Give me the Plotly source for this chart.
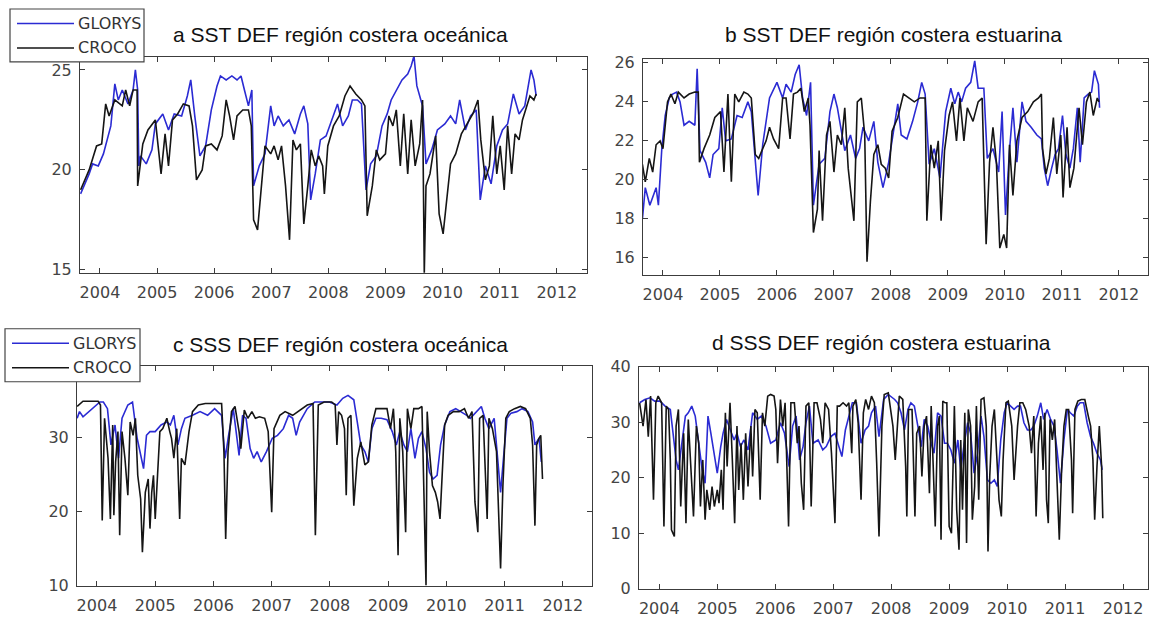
import plotly.graph_objects as go

W, H = 1153, 619

YEAR_TICKS = [2004, 2005, 2006, 2007, 2008, 2009, 2010, 2011, 2012]
TITLES = ["a SST DEF región costera oceánica", "b SST DEF región costera estuarina",
          "c SSS DEF región costera oceánica", "d SSS DEF región costera estuarina"]
SERIES_NAMES = ["GLORYS", "CROCO"]

# ---------------- panel a : SST oceanic ----------------
A_GLO_T = [2003.66,2003.81,2003.87,2003.97,2004.06,2004.13,2004.19,2004.26,2004.32,2004.39,
           2004.49,2004.58,2004.62,2004.66,2004.68,2004.71,2004.81,2004.91,2004.97,2005.10,
           2005.20,2005.30,2005.43,2005.53,2005.59,2005.66,2005.75,2005.85,2005.95,2006.05,
           2006.11,2006.21,2006.31,2006.40,2006.47,2006.53,2006.60,2006.66,2006.69,2006.79,
           2006.89,2006.99,2007.05,2007.12,2007.21,2007.31,2007.41,2007.51,2007.57,2007.64,
           2007.69,2007.77,2007.86,2007.96,2008.06,2008.16,2008.25,2008.35,2008.42,2008.51,
           2008.58,2008.66,2008.74,2008.84,2008.94,2009.03,2009.10,2009.19,2009.29,2009.39,
           2009.45,2009.50,2009.55,2009.62,2009.65,2009.71,2009.81,2009.91,2010.04,2010.14,
           2010.23,2010.30,2010.40,2010.49,2010.59,2010.66,2010.75,2010.85,2010.95,2011.05,
           2011.14,2011.24,2011.34,2011.44,2011.50,2011.55,2011.60,2011.64]
A_GLO_V = [18.8,19.8,20.3,20.2,20.8,21.5,22.2,24.3,23.5,24.0,
           23.3,24.0,25.0,24.0,20.2,20.7,20.3,21.0,22.3,22.8,
           22.0,22.8,22.7,23.7,24.5,22.7,20.7,21.2,23.0,24.2,
           24.7,24.5,24.7,24.5,24.7,24.0,23.2,24.0,19.2,20.2,
           20.8,23.2,22.2,22.7,22.2,22.5,21.8,22.8,23.2,22.3,
           18.5,19.8,21.5,21.7,22.5,23.3,22.2,22.7,23.5,23.5,
           23.3,19.0,20.3,20.7,22.2,22.8,23.5,24.0,24.5,24.8,
           25.2,25.7,24.2,23.5,23.2,20.3,21.0,22.0,22.3,22.7,
           22.3,23.5,22.0,22.7,23.0,18.5,20.2,19.3,21.2,22.0,
           22.3,23.8,22.8,23.2,24.2,25.0,24.5,23.7]
A_CRO_T = [2003.66,2003.81,2003.94,2004.03,2004.10,2004.16,2004.26,2004.39,2004.45,2004.52,
           2004.58,2004.65,2004.66,2004.75,2004.84,2004.97,2005.07,2005.14,2005.20,2005.27,
           2005.36,2005.46,2005.56,2005.62,2005.69,2005.79,2005.85,2005.95,2006.05,2006.14,
           2006.21,2006.27,2006.34,2006.40,2006.50,2006.60,2006.65,2006.69,2006.76,2006.82,
           2006.89,2006.99,2007.05,2007.12,2007.18,2007.25,2007.32,2007.38,2007.44,2007.51,
           2007.57,2007.64,2007.70,2007.77,2007.83,2007.90,2007.93,2007.99,2008.09,2008.19,
           2008.29,2008.38,2008.48,2008.58,2008.64,2008.68,2008.77,2008.84,2008.90,2009.00,
           2009.06,2009.13,2009.19,2009.26,2009.32,2009.39,2009.45,2009.52,2009.60,2009.65,
           2009.68,2009.71,2009.78,2009.88,2009.94,2010.01,2010.07,2010.14,2010.23,2010.33,
           2010.43,2010.53,2010.62,2010.67,2010.75,2010.82,2010.88,2010.95,2011.01,2011.08,
           2011.14,2011.21,2011.27,2011.34,2011.40,2011.47,2011.53,2011.60,2011.64]
A_CRO_V = [19.0,20.0,21.2,21.3,23.3,22.7,23.5,23.2,24.0,23.2,
           24.0,24.0,19.2,21.3,22.0,22.5,19.8,21.8,20.2,22.5,
           22.8,23.3,23.2,22.2,19.5,20.0,21.2,21.3,21.0,21.7,
           23.5,22.7,21.5,22.7,23.0,23.0,22.2,17.5,17.0,18.8,
           21.2,20.8,21.2,20.5,21.2,19.2,16.5,21.5,21.0,21.3,
           17.3,19.2,21.0,20.2,20.7,20.2,18.8,21.2,22.2,22.7,
           23.7,24.2,23.8,23.5,23.2,17.7,19.2,21.0,20.5,20.8,
           22.7,22.2,23.0,20.2,22.8,19.8,22.5,20.2,21.3,23.5,
           14.8,19.2,19.8,21.7,17.8,16.8,18.5,20.3,20.8,21.8,
           22.3,22.8,23.5,21.5,19.5,20.2,22.7,19.8,21.2,19.0,
           22.2,19.8,21.8,21.5,22.5,23.2,23.7,23.5,23.8]

# ---------------- panel b : SST estuarine ----------------
B_GLO_T = [2003.64,2003.69,2003.77,2003.82,2003.88,2003.92,2003.98,2004.04,2004.11,2004.17,
           2004.24,2004.30,2004.37,2004.46,2004.56,2004.60,2004.65,2004.75,2004.82,2004.88,
           2004.98,2005.04,2005.10,2005.20,2005.30,2005.39,2005.49,2005.55,2005.67,2005.75,
           2005.87,2006.00,2006.10,2006.16,2006.25,2006.32,2006.39,2006.45,2006.52,2006.59,
           2006.64,2006.74,2006.84,2006.93,2007.00,2007.06,2007.13,2007.19,2007.29,2007.38,
           2007.45,2007.51,2007.61,2007.70,2007.77,2007.86,2007.96,2008.06,2008.12,2008.18,
           2008.28,2008.38,2008.47,2008.54,2008.60,2008.67,2008.76,2008.86,2008.96,2009.05,
           2009.12,2009.18,2009.24,2009.31,2009.40,2009.47,2009.53,2009.63,2009.69,2009.79,
           2009.89,2009.95,2010.01,2010.08,2010.14,2010.21,2010.30,2010.37,2010.46,2010.56,
           2010.64,2010.69,2010.75,2010.82,2010.88,2010.94,2011.01,2011.07,2011.14,2011.20,
           2011.27,2011.32,2011.39,2011.46,2011.52,2011.57,2011.64,2011.66]
B_GLO_V = [18.0,19.6,18.7,19.1,19.6,18.7,21.6,23.3,24.2,24.4,
           24.5,24.0,22.8,23.0,22.8,25.7,21.5,20.9,20.1,21.3,
           21.6,23.7,22.0,22.1,23.3,23.2,24.0,23.5,19.2,21.8,
           24.2,25.0,24.2,24.9,24.5,25.4,25.9,24.2,23.3,25.0,
           18.7,20.8,21.1,23.5,24.4,23.7,22.5,21.5,22.3,21.1,
           21.6,22.7,22.0,23.0,20.9,19.6,20.9,22.7,23.9,22.3,
           22.1,23.0,24.0,25.0,24.4,20.8,21.6,20.1,23.5,24.7,
           23.9,24.5,24.0,24.7,25.0,26.1,24.7,24.7,21.1,21.6,
           20.4,23.5,18.2,21.5,23.7,20.9,24.0,23.0,22.7,22.3,
           22.1,20.6,19.7,20.6,21.3,21.6,23.3,21.3,20.6,21.6,
           23.7,20.9,24.2,24.4,24.5,25.6,24.9,23.7]
B_CRO_T = [2003.64,2003.69,2003.76,2003.82,2003.88,2003.95,2004.00,2004.08,2004.14,2004.21,
           2004.27,2004.37,2004.46,2004.56,2004.62,2004.64,2004.72,2004.82,2004.91,2005.01,
           2005.07,2005.14,2005.20,2005.26,2005.33,2005.42,2005.49,2005.55,2005.62,2005.68,
           2005.75,2005.81,2005.87,2005.94,2006.03,2006.10,2006.16,2006.23,2006.29,2006.36,
           2006.42,2006.48,2006.55,2006.58,2006.64,2006.71,2006.74,2006.80,2006.87,2006.93,
           2007.00,2007.06,2007.13,2007.19,2007.25,2007.32,2007.35,2007.41,2007.48,2007.54,
           2007.58,2007.64,2007.70,2007.77,2007.83,2007.90,2007.96,2008.02,2008.12,2008.22,
           2008.31,2008.41,2008.51,2008.60,2008.63,2008.70,2008.76,2008.83,2008.88,2008.94,
           2009.02,2009.08,2009.15,2009.21,2009.28,2009.34,2009.44,2009.53,2009.60,2009.63,
           2009.67,2009.73,2009.79,2009.85,2009.91,2009.98,2010.03,2010.08,2010.14,2010.21,
           2010.30,2010.40,2010.50,2010.59,2010.64,2010.66,2010.72,2010.78,2010.85,2010.91,
           2010.98,2011.02,2011.09,2011.14,2011.21,2011.30,2011.36,2011.43,2011.49,2011.55,
           2011.62,2011.65]
B_CRO_V = [20.8,19.9,21.1,20.4,21.8,22.0,21.6,24.0,24.4,23.9,
           24.5,24.2,24.4,24.5,24.5,20.9,21.6,22.3,23.2,23.5,
           20.4,24.4,19.9,24.4,24.0,24.5,24.4,24.2,21.3,21.1,
           21.6,22.0,22.7,22.1,21.6,24.2,24.2,22.1,24.4,24.5,
           24.7,23.5,24.2,22.8,17.3,18.5,21.5,17.9,22.3,23.0,
           20.4,22.3,21.8,23.7,20.6,18.5,17.9,24.0,24.2,22.3,
           15.8,18.9,21.3,21.8,20.8,20.6,20.1,22.5,23.2,24.4,
           24.2,24.0,24.2,24.2,17.9,21.8,20.6,22.0,17.9,21.5,
           23.3,24.0,22.0,24.2,22.0,23.7,23.0,24.0,24.2,20.6,
           16.7,20.9,22.7,20.9,16.5,17.2,16.5,21.8,19.2,22.0,
           23.2,23.5,24.0,24.2,24.4,21.6,20.3,21.1,23.2,20.3,
           22.3,19.1,22.7,19.6,20.6,23.7,21.8,24.0,24.5,23.3,
           24.2,24.0]

# ---------------- panel c : SSS oceanic ----------------
C_GLO_T = [2003.66,2003.70,2003.76,2003.86,2003.96,2004.05,2004.11,2004.18,2004.24,2004.31,
           2004.37,2004.43,2004.53,2004.61,2004.69,2004.76,2004.80,2004.85,2004.91,2005.00,
           2005.10,2005.20,2005.26,2005.32,2005.39,2005.45,2005.51,2005.64,2005.77,2005.90,
           2006.02,2006.14,2006.20,2006.26,2006.34,2006.44,2006.50,2006.56,2006.63,2006.69,
           2006.75,2006.82,2006.91,2007.01,2007.10,2007.20,2007.29,2007.36,2007.42,2007.48,
           2007.61,2007.74,2007.87,2007.99,2008.12,2008.22,2008.31,2008.41,2008.47,2008.53,
           2008.60,2008.66,2008.72,2008.79,2008.88,2008.98,2009.07,2009.14,2009.20,2009.27,
           2009.33,2009.39,2009.46,2009.52,2009.58,2009.65,2009.71,2009.77,2009.84,2009.90,
           2009.97,2010.06,2010.16,2010.25,2010.35,2010.41,2010.51,2010.60,2010.66,2010.73,
           2010.82,2010.89,2010.93,2010.99,2011.04,2011.11,2011.21,2011.30,2011.40,2011.48,
           2011.52,2011.59,2011.63]
C_GLO_V = [32.6,33.5,32.8,33.5,34.2,34.8,34.8,33.9,29.0,31.7,
           27.2,32.6,34.4,34.8,29.9,27.2,25.8,30.3,30.8,30.8,
           31.7,32.1,31.7,33.0,29.0,31.2,32.6,33.0,33.5,33.0,
           33.9,33.0,27.2,30.3,33.9,27.6,33.0,32.6,28.5,27.2,
           28.1,26.7,28.1,29.9,30.3,31.2,33.0,32.6,30.3,32.1,
           33.9,34.8,34.8,34.8,34.4,35.3,35.7,35.1,32.1,29.0,
           28.1,26.7,31.2,32.6,32.6,32.4,30.8,29.0,30.8,29.0,
           28.1,31.2,27.2,29.9,30.8,28.5,25.3,24.4,24.9,29.0,
           31.7,33.5,33.9,33.5,33.0,32.6,33.5,34.2,32.6,31.2,
           32.6,25.8,22.6,28.1,32.6,33.3,33.5,33.9,33.5,32.1,
           29.0,29.9,26.7]
C_CRO_T = [2003.66,2003.76,2004.02,2004.06,2004.09,2004.13,2004.19,2004.23,2004.27,2004.29,
           2004.32,2004.36,2004.39,2004.43,2004.48,2004.53,2004.57,2004.62,2004.66,2004.70,
           2004.75,2004.78,2004.83,2004.88,2004.91,2004.94,2004.97,2005.00,2005.04,2005.08,
           2005.13,2005.20,2005.25,2005.28,2005.32,2005.37,2005.42,2005.45,2005.51,2005.58,
           2005.64,2005.74,2005.86,2006.02,2006.14,2006.18,2006.21,2006.25,2006.31,2006.37,
           2006.44,2006.47,2006.53,2006.59,2006.66,2006.72,2006.79,2006.88,2006.94,2007.00,
           2007.04,2007.14,2007.23,2007.36,2007.48,2007.61,2007.71,2007.75,2007.80,2007.90,
           2008.03,2008.09,2008.12,2008.15,2008.20,2008.25,2008.28,2008.31,2008.36,2008.41,
           2008.47,2008.53,2008.60,2008.66,2008.72,2008.79,2008.88,2008.98,2009.04,2009.09,
           2009.13,2009.17,2009.20,2009.25,2009.30,2009.33,2009.39,2009.44,2009.52,2009.58,
           2009.65,2009.67,2009.71,2009.76,2009.81,2009.85,2009.89,2009.93,2009.97,2010.03,
           2010.12,2010.22,2010.31,2010.38,2010.44,2010.49,2010.54,2010.57,2010.63,2010.70,
           2010.73,2010.79,2010.86,2010.91,2010.93,2010.97,2011.02,2011.08,2011.17,2011.27,
           2011.36,2011.44,2011.48,2011.52,2011.55,2011.59,2011.62,2011.65]
C_CRO_V = [34.2,34.9,34.9,34.4,18.8,32.6,27.2,19.0,31.7,19.5,
           26.7,30.8,16.8,30.8,27.2,22.2,32.1,30.3,32.6,24.9,
           21.7,14.5,22.6,24.4,17.7,22.6,24.9,19.0,24.9,30.8,
           31.2,32.6,30.8,29.9,27.2,31.2,19.0,27.2,26.3,30.8,
           33.5,34.4,34.6,34.6,34.6,28.1,16.3,28.1,33.5,34.2,
           30.8,28.5,33.7,32.6,33.5,32.6,32.8,32.6,30.8,19.9,
           31.2,33.0,33.5,33.0,33.7,34.4,34.6,16.8,34.4,34.8,
           34.8,34.4,29.0,33.5,33.0,31.2,22.2,32.6,33.0,20.8,
           27.2,29.4,26.3,26.7,31.7,33.9,33.9,33.9,31.2,33.9,
           28.1,14.1,32.6,28.1,17.2,33.9,31.2,33.9,33.9,34.2,
           10.0,33.5,28.1,23.5,22.6,21.3,19.0,24.9,31.7,33.0,
           33.5,33.5,33.9,32.6,33.5,21.3,17.2,32.6,33.0,19.0,
           32.6,31.2,28.1,16.8,12.3,23.5,32.6,33.5,33.9,34.2,
           33.9,32.6,29.0,18.1,29.0,29.9,30.3,24.4]

# ---------------- panel d : SSS estuarine ----------------
D_GLO_T = [2003.66,2003.75,2003.84,2003.92,2004.01,2004.10,2004.19,2004.24,2004.29,2004.33,
           2004.39,2004.45,2004.50,2004.56,2004.62,2004.68,2004.74,2004.79,2004.84,2004.89,
           2004.95,2005.00,2005.06,2005.10,2005.16,2005.22,2005.29,2005.34,2005.40,2005.46,
           2005.53,2005.61,2005.69,2005.76,2005.84,2005.92,2006.01,2006.09,2006.16,2006.24,
           2006.30,2006.36,2006.42,2006.48,2006.53,2006.59,2006.65,2006.74,2006.82,2006.88,
           2006.96,2007.03,2007.08,2007.15,2007.21,2007.26,2007.33,2007.40,2007.48,2007.55,
           2007.61,2007.66,2007.73,2007.79,2007.87,2007.95,2008.06,2008.11,2008.17,2008.23,
           2008.29,2008.34,2008.40,2008.46,2008.52,2008.57,2008.63,2008.69,2008.74,2008.80,
           2008.86,2008.92,2008.97,2009.03,2009.09,2009.15,2009.20,2009.26,2009.32,2009.37,
           2009.43,2009.49,2009.55,2009.60,2009.66,2009.72,2009.78,2009.83,2009.89,2009.95,
           2010.00,2010.06,2010.12,2010.18,2010.23,2010.29,2010.35,2010.41,2010.46,2010.52,
           2010.58,2010.63,2010.69,2010.75,2010.81,2010.86,2010.92,2010.98,2011.04,2011.09,
           2011.15,2011.21,2011.26,2011.32,2011.38,2011.44,2011.49,2011.55,2011.61,2011.64]
D_GLO_V = [33.5,34.1,34.4,33.8,33.8,32.9,32.3,27.4,23.2,21.4,
           26.8,31.1,31.7,32.9,31.1,26.2,21.4,19.0,31.1,28.0,
           24.4,20.8,25.6,28.0,30.5,28.6,26.8,28.0,25.6,26.8,
           25.0,31.7,30.5,31.1,29.3,26.2,26.8,29.9,28.0,22.0,
           29.3,31.1,23.2,25.6,29.9,32.9,26.2,26.8,25.0,25.6,
           27.4,28.0,26.2,23.8,28.6,30.5,33.5,33.5,26.2,28.6,
           29.3,31.7,32.9,27.4,34.1,35.0,34.1,33.5,31.7,28.6,
           32.3,33.5,32.9,29.3,25.6,30.5,29.3,26.2,24.4,31.7,
           31.1,26.2,26.2,25.0,22.6,26.8,21.4,26.2,29.9,28.0,
           20.8,24.4,31.1,27.4,19.6,19.0,19.6,18.4,26.8,31.7,
           33.5,32.9,32.3,32.9,32.9,29.9,28.6,28.6,29.3,31.1,
           33.5,30.5,32.3,30.5,29.3,25.0,19.0,26.8,32.3,31.7,
           31.1,32.9,33.5,33.5,29.9,27.4,26.2,24.4,23.2,21.4]
D_CRO_T = [2003.66,2003.72,2003.77,2003.81,2003.85,2003.90,2003.94,2003.98,2004.04,2004.08,
           2004.12,2004.16,2004.19,2004.21,2004.26,2004.29,2004.33,2004.37,2004.42,2004.46,
           2004.50,2004.54,2004.59,2004.64,2004.68,2004.71,2004.75,2004.79,2004.82,2004.87,
           2004.91,2004.95,2005.00,2005.03,2005.07,2005.10,2005.14,2005.17,2005.22,2005.26,
           2005.30,2005.34,2005.37,2005.41,2005.45,2005.49,2005.53,2005.58,2005.61,2005.65,
           2005.69,2005.74,2005.78,2005.82,2005.87,2005.92,2005.98,2006.01,2006.04,2006.09,
           2006.13,2006.17,2006.20,2006.23,2006.27,2006.33,2006.38,2006.41,2006.45,2006.49,
           2006.53,2006.58,2006.62,2006.67,2006.72,2006.78,2006.82,2006.86,2006.92,2006.97,
           2007.03,2007.07,2007.11,2007.17,2007.23,2007.27,2007.32,2007.34,2007.39,2007.43,
           2007.48,2007.52,2007.56,2007.61,2007.66,2007.71,2007.75,2007.79,2007.84,2007.88,
           2007.95,
           2008.03,2008.07,2008.10,2008.14,2008.20,2008.25,2008.27,2008.30,2008.36,2008.41,
           2008.44,2008.49,2008.53,2008.57,2008.61,2008.66,2008.69,2008.73,2008.76,2008.80,
           2008.83,2008.86,2008.89,2008.93,2008.96,2009.00,2009.04,2009.07,2009.09,2009.13,
           2009.17,2009.20,2009.23,2009.27,2009.30,2009.33,2009.37,2009.40,2009.44,2009.47,
           2009.51,2009.55,2009.60,2009.64,2009.67,2009.70,2009.74,2009.78,2009.82,2009.86,
           2009.90,2009.93,2009.98,2010.02,2010.08,2010.12,2010.18,2010.22,2010.27,2010.32,
           2010.38,2010.42,2010.46,2010.50,2010.54,2010.58,2010.62,2010.65,2010.68,2010.71,
           2010.74,2010.78,2010.82,2010.86,2010.90,2010.94,2010.98,2011.02,2011.06,2011.11,
           2011.13,2011.17,2011.22,2011.28,2011.34,2011.40,2011.44,2011.48,2011.51,2011.55,
           2011.59,2011.63,2011.65]
D_CRO_V = [33.5,29.3,34.1,27.4,34.7,16.0,33.5,34.7,33.5,11.2,
           32.9,32.3,23.2,10.6,9.4,29.3,32.3,14.8,28.0,11.8,
           30.5,23.2,13.0,29.3,26.2,14.8,23.2,12.4,17.8,14.2,
           18.4,14.8,17.8,15.4,21.4,14.2,31.7,22.0,33.5,23.2,
           11.8,29.3,17.8,26.2,16.0,28.0,18.4,29.3,20.2,32.3,
           31.7,16.0,31.7,29.3,34.7,35.0,34.7,32.3,22.6,34.1,
           29.3,33.5,23.2,11.2,33.5,33.5,26.2,29.3,19.0,14.2,
           32.9,33.5,14.8,33.5,33.5,30.5,26.2,33.5,32.3,24.4,
           11.8,32.9,32.9,33.5,32.9,33.5,24.4,32.9,34.1,29.9,
           16.0,31.7,34.1,32.3,34.7,33.5,22.6,9.4,29.3,35.0,
           35.3,
           29.3,23.2,28.0,34.7,34.1,22.0,13.0,32.3,32.3,13.0,
           28.0,29.3,20.2,29.3,31.1,17.2,32.9,19.0,11.2,29.3,
           31.1,8.8,33.8,33.5,33.5,11.2,10.0,23.2,32.9,14.2,
           7.0,26.8,14.2,31.7,8.2,32.3,29.3,12.4,18.4,32.9,
           16.0,34.1,34.4,29.3,6.7,20.2,29.3,32.3,23.2,16.0,
           13.0,23.2,33.5,33.8,29.3,19.6,29.3,33.5,33.5,32.3,
           29.3,24.4,31.1,13.0,26.2,31.1,21.4,31.7,16.0,11.8,
           30.5,26.8,30.5,19.6,8.8,21.4,29.3,32.3,32.3,23.2,
           13.6,32.3,33.8,34.1,34.1,31.1,29.3,23.2,12.4,22.0,
           29.3,22.0,12.7]

Y_TICKS = [[15, 20, 25], [16, 18, 20, 22, 24, 26], [10, 20, 30], [0, 10, 20, 30, 40]]
Y_RANGES = [[14.85, 25.65], [15.13, 26.2], [10.0, 39.7], [0.0, 40.0]]
X_RANGES = [[2003.65, 2012.53], [2003.65, 2012.51], [2003.657, 2012.5], [2003.65, 2012.43]]

PANELS = [
    (A_GLO_T, A_GLO_V, A_CRO_T, A_CRO_V),
    (B_GLO_T, B_GLO_V, B_CRO_T, B_CRO_V),
    (C_GLO_T, C_GLO_V, C_CRO_T, C_CRO_V),
    (D_GLO_T, D_GLO_V, D_CRO_T, D_CRO_V),
]
for p in PANELS:
    assert len(p[0]) == len(p[1]), (len(p[0]), len(p[1]))
    assert len(p[2]) == len(p[3]), (len(p[2]), len(p[3]))

# ---------------- layout geometry (pixels in the 1153x619 page) ----------------
BOX = [  # left, top, right, bottom
    (80, 57, 587, 273),
    (643, 59, 1148, 275),
    (77, 366, 592, 586),
    (639, 367, 1148, 589),
]
TITLE_POS = [(340, 35), (894, 35), (340, 345), (881, 343)]
LEGEND_BOX = [(10, 9, 144, 62), (5, 329, 140, 382)]

BLUE = "#2b2bd3"
BLACK = "#151515"
AXIS_COL = "#3c3c3c"
LW = 1.6

# vertical placement correction (page y -> layout y)
Y_OFF, Y_SCALE = 9.0, 0.97

def fx(px):
    return px / W

def fy(py):
    return 1 - ((py - Y_OFF) / Y_SCALE) / H

fig = go.Figure()
for i, (gt, gv, ct, cv) in enumerate(PANELS):
    sfx = "" if i == 0 else str(i + 1)
    fig.add_trace(go.Scatter(x=gt, y=gv, mode="lines", name=SERIES_NAMES[0],
                             line=dict(color=BLUE, width=LW), showlegend=False,
                             xaxis="x" + sfx, yaxis="y" + sfx))
    fig.add_trace(go.Scatter(x=ct, y=cv, mode="lines", name=SERIES_NAMES[1],
                             line=dict(color=BLACK, width=LW), showlegend=False,
                             xaxis="x" + sfx, yaxis="y" + sfx))

tickfont = dict(family="DejaVu Sans", size=16, color="#444444")
layout = dict(width=W, height=H, margin=dict(l=0, r=0, t=0, b=0),
              paper_bgcolor="white", plot_bgcolor="white", showlegend=False)
for i, (l, t, r, b) in enumerate(BOX):
    sfx = "" if i == 0 else str(i + 1)
    layout["xaxis" + sfx] = dict(
        domain=[fx(l), fx(r)], range=X_RANGES[i], anchor="y" + sfx,
        tickmode="array", tickvals=YEAR_TICKS, ticktext=[str(y) for y in YEAR_TICKS],
        ticks="inside", ticklen=5, tickcolor=AXIS_COL, showline=True, linecolor=AXIS_COL,
        linewidth=1, mirror="ticks", showgrid=False, zeroline=False, tickfont=tickfont,
        ticklabelstandoff=5)
    layout["yaxis" + sfx] = dict(
        domain=[fy(b), fy(t)], range=Y_RANGES[i], anchor="x" + sfx,
        tickmode="array", tickvals=Y_TICKS[i],
        ticks="inside", ticklen=5, tickcolor=AXIS_COL, showline=True, linecolor=AXIS_COL,
        linewidth=1, mirror="ticks", showgrid=False, zeroline=False, tickfont=tickfont,
        ticklabelstandoff=4)
fig.update_layout(**layout)

for i, (cx, cy) in enumerate(TITLE_POS):
    fig.add_annotation(text=TITLES[i], x=fx(cx), y=fy(cy), xref="paper", yref="paper",
                       showarrow=False, xanchor="center", yanchor="middle",
                       font=dict(family="Liberation Sans", size=21, color="#111111"))

# legends (drawn as boxes with sample lines and labels)
for (l, t, r, b) in LEGEND_BOX:
    fig.add_shape(type="rect", xref="paper", yref="paper", x0=fx(l), x1=fx(r), y0=fy(b), y1=fy(t),
                  line=dict(color="#444444", width=1.2), fillcolor="white", layer="above")
    rows = [t + 14.5, t + 39]
    for k, (name, col) in enumerate(zip(SERIES_NAMES, [BLUE, BLACK])):
        fig.add_shape(type="line", xref="paper", yref="paper", x0=fx(l + 7), x1=fx(l + 64),
                      y0=fy(rows[k]), y1=fy(rows[k]), line=dict(color=col, width=1.4), layer="above")
        fig.add_annotation(text=name, x=fx(l + 66), y=fy(rows[k]), xref="paper", yref="paper",
                           showarrow=False, xanchor="left", yanchor="middle",
                           font=dict(family="DejaVu Sans", size=16, color="#333333"))

fig.write_html("out.html")
